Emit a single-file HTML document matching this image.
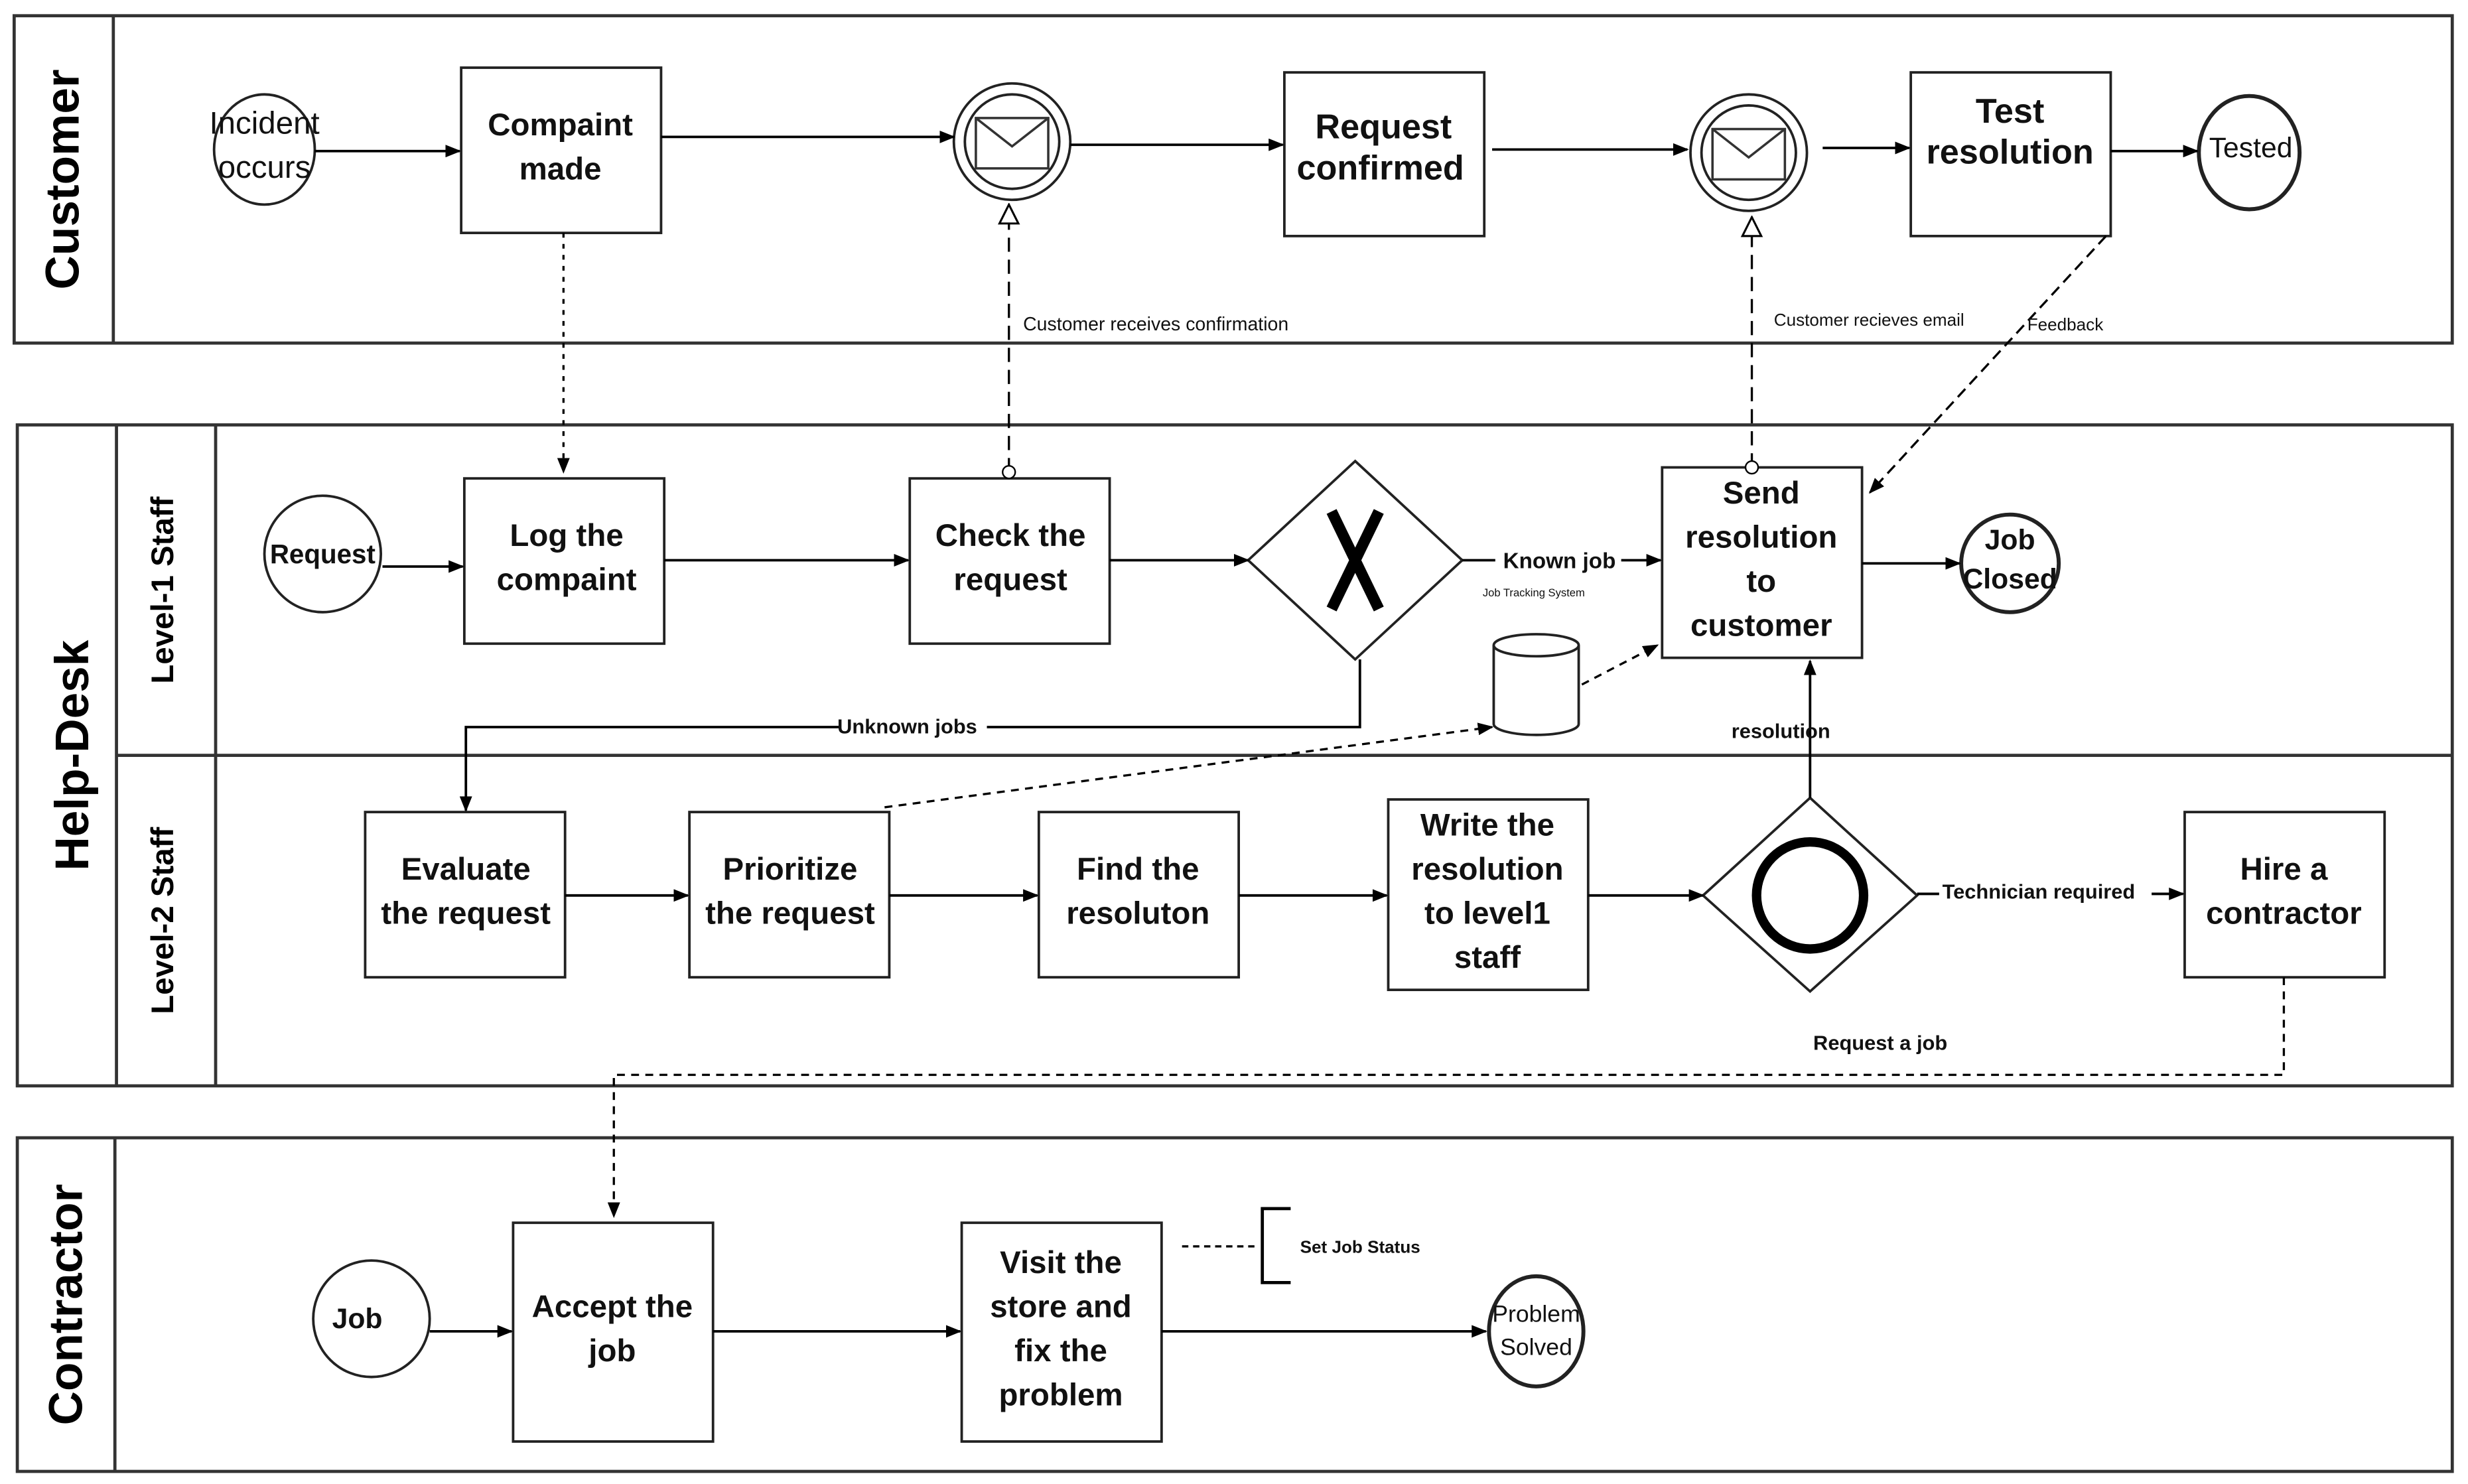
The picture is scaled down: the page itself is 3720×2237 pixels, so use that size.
<!DOCTYPE html>
<html><head><meta charset="utf-8"><style>html,body{margin:0;padding:0;background:#fff}svg{display:block}</style></head>
<body>
<svg width="3720" height="2237" viewBox="0 0 1568 943" preserveAspectRatio="none" xmlns="http://www.w3.org/2000/svg" font-family="Liberation Sans, sans-serif">
<defs>
<marker id="a" markerWidth="10" markerHeight="8" refX="9" refY="4" orient="auto" markerUnits="userSpaceOnUse"><path d="M0,0L10,4L0,8z" fill="#000"/></marker>
<marker id="o" markerWidth="14" markerHeight="16" refX="13" refY="8" orient="auto" markerUnits="userSpaceOnUse"><path d="M1,2L13,8L1,14z" fill="#fff" stroke="#000" stroke-width="1.3"/></marker>
<marker id="c" markerWidth="10" markerHeight="10" refX="5" refY="5" markerUnits="userSpaceOnUse"><circle cx="5" cy="5" r="4" fill="#fff" stroke="#000"/></marker>
</defs>
<g fill="none" stroke="#333" stroke-width="2">
<rect x="9" y="10" width="1549" height="208"/><line x1="72" y1="10" x2="72" y2="218"/>
<rect x="11" y="270" width="1547" height="420"/><line x1="74" y1="270" x2="74" y2="690"/><line x1="137" y1="270" x2="137" y2="690"/><line x1="74" y1="480" x2="1558" y2="480"/>
<rect x="11" y="723" width="1547" height="212"/><line x1="73" y1="723" x2="73" y2="935"/>
</g>
<g font-weight="bold" fill="#000">
<text transform="translate(50,114) rotate(-90)" font-size="30" text-anchor="middle">Customer</text>
<text transform="translate(56,480) rotate(-90)" font-size="30" text-anchor="middle">Help-Desk</text>
<text transform="translate(52,829) rotate(-90)" font-size="30" text-anchor="middle">Contractor</text>
<text transform="translate(110,375) rotate(-90)" font-size="20" text-anchor="middle">Level-1 Staff</text>
<text transform="translate(110,585) rotate(-90)" font-size="20" text-anchor="middle">Level-2 Staff</text>
</g>
<g fill="#fff" stroke="#222" stroke-width="1.6">
<ellipse cx="168" cy="95" rx="32" ry="35"/>
<rect x="293" y="43" width="127" height="105"/>
<circle cx="643" cy="90" r="37"/><circle cx="643" cy="90" r="30"/>
<rect x="816" y="46" width="127" height="104"/>
<circle cx="1111" cy="97" r="37"/><circle cx="1111" cy="97" r="30"/>
<rect x="1214" y="46" width="127" height="104"/>
<ellipse cx="1429" cy="97" rx="32" ry="36" stroke-width="2.5"/>
<circle cx="205" cy="352" r="37"/>
<rect x="295" y="304" width="127" height="105"/>
<rect x="578" y="304" width="127" height="105"/>
<path d="M861,293L929,356L861,419L793,356z"/>
<rect x="1056" y="297" width="127" height="121"/>
<circle cx="1277" cy="358" r="31" stroke-width="2.5"/>
<path d="M949,410v50a27,7 0 0 0 54,0v-50" /><ellipse cx="976" cy="410" rx="27" ry="7"/>
<rect x="232" y="516" width="127" height="105"/>
<rect x="438" y="516" width="127" height="105"/>
<rect x="660" y="516" width="127" height="105"/>
<rect x="882" y="508" width="127" height="121"/>
<path d="M1150,507L1218,569L1150,630L1082,569z"/>
<rect x="1388" y="516" width="127" height="105"/>
<circle cx="236" cy="838" r="37"/>
<rect x="326" y="777" width="127" height="139"/>
<rect x="611" y="777" width="127" height="139"/>
<ellipse cx="976" cy="846" rx="30" ry="35" stroke-width="2.5"/>
</g>
<g fill="none" stroke="#333" stroke-width="1.5">
<rect x="620" y="75" width="46" height="32"/><path d="M620,75L643,93L666,75"/>
<rect x="1088" y="82" width="46" height="32"/><path d="M1088,82L1111,100L1134,82"/>
</g>
<path d="M846,325L876,387M876,325L846,387" stroke="#000" stroke-width="7"/>
<circle cx="1150" cy="569" r="34" fill="none" stroke="#000" stroke-width="6"/>
<g stroke="#000" stroke-width="1.6" fill="none" marker-end="url(#a)">
<path d="M200,96H292"/><path d="M420,87H606"/><path d="M680,92H815"/><path d="M948,95H1072"/><path d="M1158,94H1213"/><path d="M1341,96H1396"/>
<path d="M243,360H294"/><path d="M422,356H577"/><path d="M705,356H793"/><path d="M929,356H1055"/><path d="M1183,358H1245"/>
<path d="M864,419V462H296V515"/>
<path d="M359,569H437"/><path d="M565,569H659"/><path d="M787,569H881"/><path d="M1009,569H1082"/><path d="M1218,568H1387"/>
<path d="M1150,507V420"/>
<path d="M273,846H325"/><path d="M453,846H610"/><path d="M738,846H944"/>
</g>
<g stroke="#000" stroke-width="1.4" fill="none">
<path d="M358,148V300" stroke-dasharray="3,4" marker-end="url(#a)"/>
<path d="M641,300V130" stroke-dasharray="9,5" marker-end="url(#o)" marker-start="url(#c)"/>
<path d="M1113,297V138" stroke-dasharray="9,5" marker-end="url(#o)" marker-start="url(#c)"/>
<path d="M1338,150L1188,313" stroke-dasharray="7,4" marker-end="url(#a)"/>
<path d="M1005,435L1053,410" stroke-dasharray="5,4" marker-end="url(#a)"/>
<path d="M562,513L948,462" stroke-dasharray="5,4" marker-end="url(#a)"/>
<path d="M1451,621V683H390V773" stroke-dasharray="5,4" marker-end="url(#a)"/>
<path d="M751,792H800" stroke-dasharray="4,3"/>
<path d="M820,768H802V815H820" stroke-width="2"/>
</g>
<g font-size="20" text-anchor="middle" fill="#111">
<text x="168" y="85">Incident</text><text x="168" y="113">occurs</text>
<text x="356" y="86" font-weight="bold">Compaint</text><text x="356" y="114" font-weight="bold">made</text>
<text x="879" y="88" font-weight="bold" font-size="22">Request</text><text x="877" y="114" font-weight="bold" font-size="22">confirmed</text>
<text x="1277" y="78" font-weight="bold" font-size="22">Test</text><text x="1277" y="104" font-weight="bold" font-size="22">resolution</text>
<text x="1430" y="100" font-size="18">Tested</text>
<text x="205" y="358" font-size="17" font-weight="bold">Request</text>
<text x="360" y="347" font-weight="bold">Log the</text><text x="360" y="375" font-weight="bold">compaint</text>
<text x="642" y="347" font-weight="bold">Check the</text><text x="642" y="375" font-weight="bold">request</text>
<text x="1119" y="320" font-weight="bold">Send</text><text x="1119" y="348" font-weight="bold">resolution</text><text x="1119" y="376" font-weight="bold">to</text><text x="1119" y="404" font-weight="bold">customer</text>
<text x="1277" y="349" font-size="18" font-weight="bold">Job</text><text x="1277" y="374" font-size="18" font-weight="bold">Closed</text>
<text x="296" y="559" font-weight="bold">Evaluate</text><text x="296" y="587" font-weight="bold">the request</text>
<text x="502" y="559" font-weight="bold">Prioritize</text><text x="502" y="587" font-weight="bold">the request</text>
<text x="723" y="559" font-weight="bold">Find the</text><text x="723" y="587" font-weight="bold">resoluton</text>
<text x="945" y="531" font-weight="bold">Write the</text><text x="945" y="559" font-weight="bold">resolution</text><text x="945" y="587" font-weight="bold">to level1</text><text x="945" y="615" font-weight="bold">staff</text>
<text x="1451" y="559" font-weight="bold">Hire a</text><text x="1451" y="587" font-weight="bold">contractor</text>
<text x="227" y="844" font-size="18" font-weight="bold">Job</text>
<text x="389" y="837" font-weight="bold">Accept the</text><text x="389" y="865" font-weight="bold">job</text>
<text x="674" y="809" font-weight="bold">Visit the</text><text x="674" y="837" font-weight="bold">store and</text><text x="674" y="865" font-weight="bold">fix the</text><text x="674" y="893" font-weight="bold">problem</text>
<text x="976" y="840" font-size="15">Problem</text><text x="976" y="861" font-size="15">Solved</text>
</g>
<g font-size="12" fill="#111">
<rect x="950" y="348" width="80" height="16" fill="#fff"/>
<text x="955" y="361" font-size="14" font-weight="bold">Known job</text>
<text x="942" y="379" font-size="7">Job Tracking System</text>
<text x="650" y="210">Customer receives  confirmation</text>
<text x="1127" y="207" font-size="11">Customer recieves email</text>
<text x="1288" y="210" font-size="11">Feedback</text>
<rect x="533" y="455" width="94" height="14" fill="#fff"/>
<text x="532" y="466" font-size="13" font-weight="bold">Unknown jobs</text>
<text x="1100" y="469" font-size="13" font-weight="bold">resolution</text>
<rect x="1232" y="560" width="135" height="14" fill="#fff"/>
<text x="1234" y="571" font-size="13" font-weight="bold">Technician required</text>
<text x="1152" y="667" font-size="13" font-weight="bold">Request a job</text>
<text x="826" y="796" font-size="11" font-weight="bold">Set Job Status</text>
</g>
</svg>
</body></html>
